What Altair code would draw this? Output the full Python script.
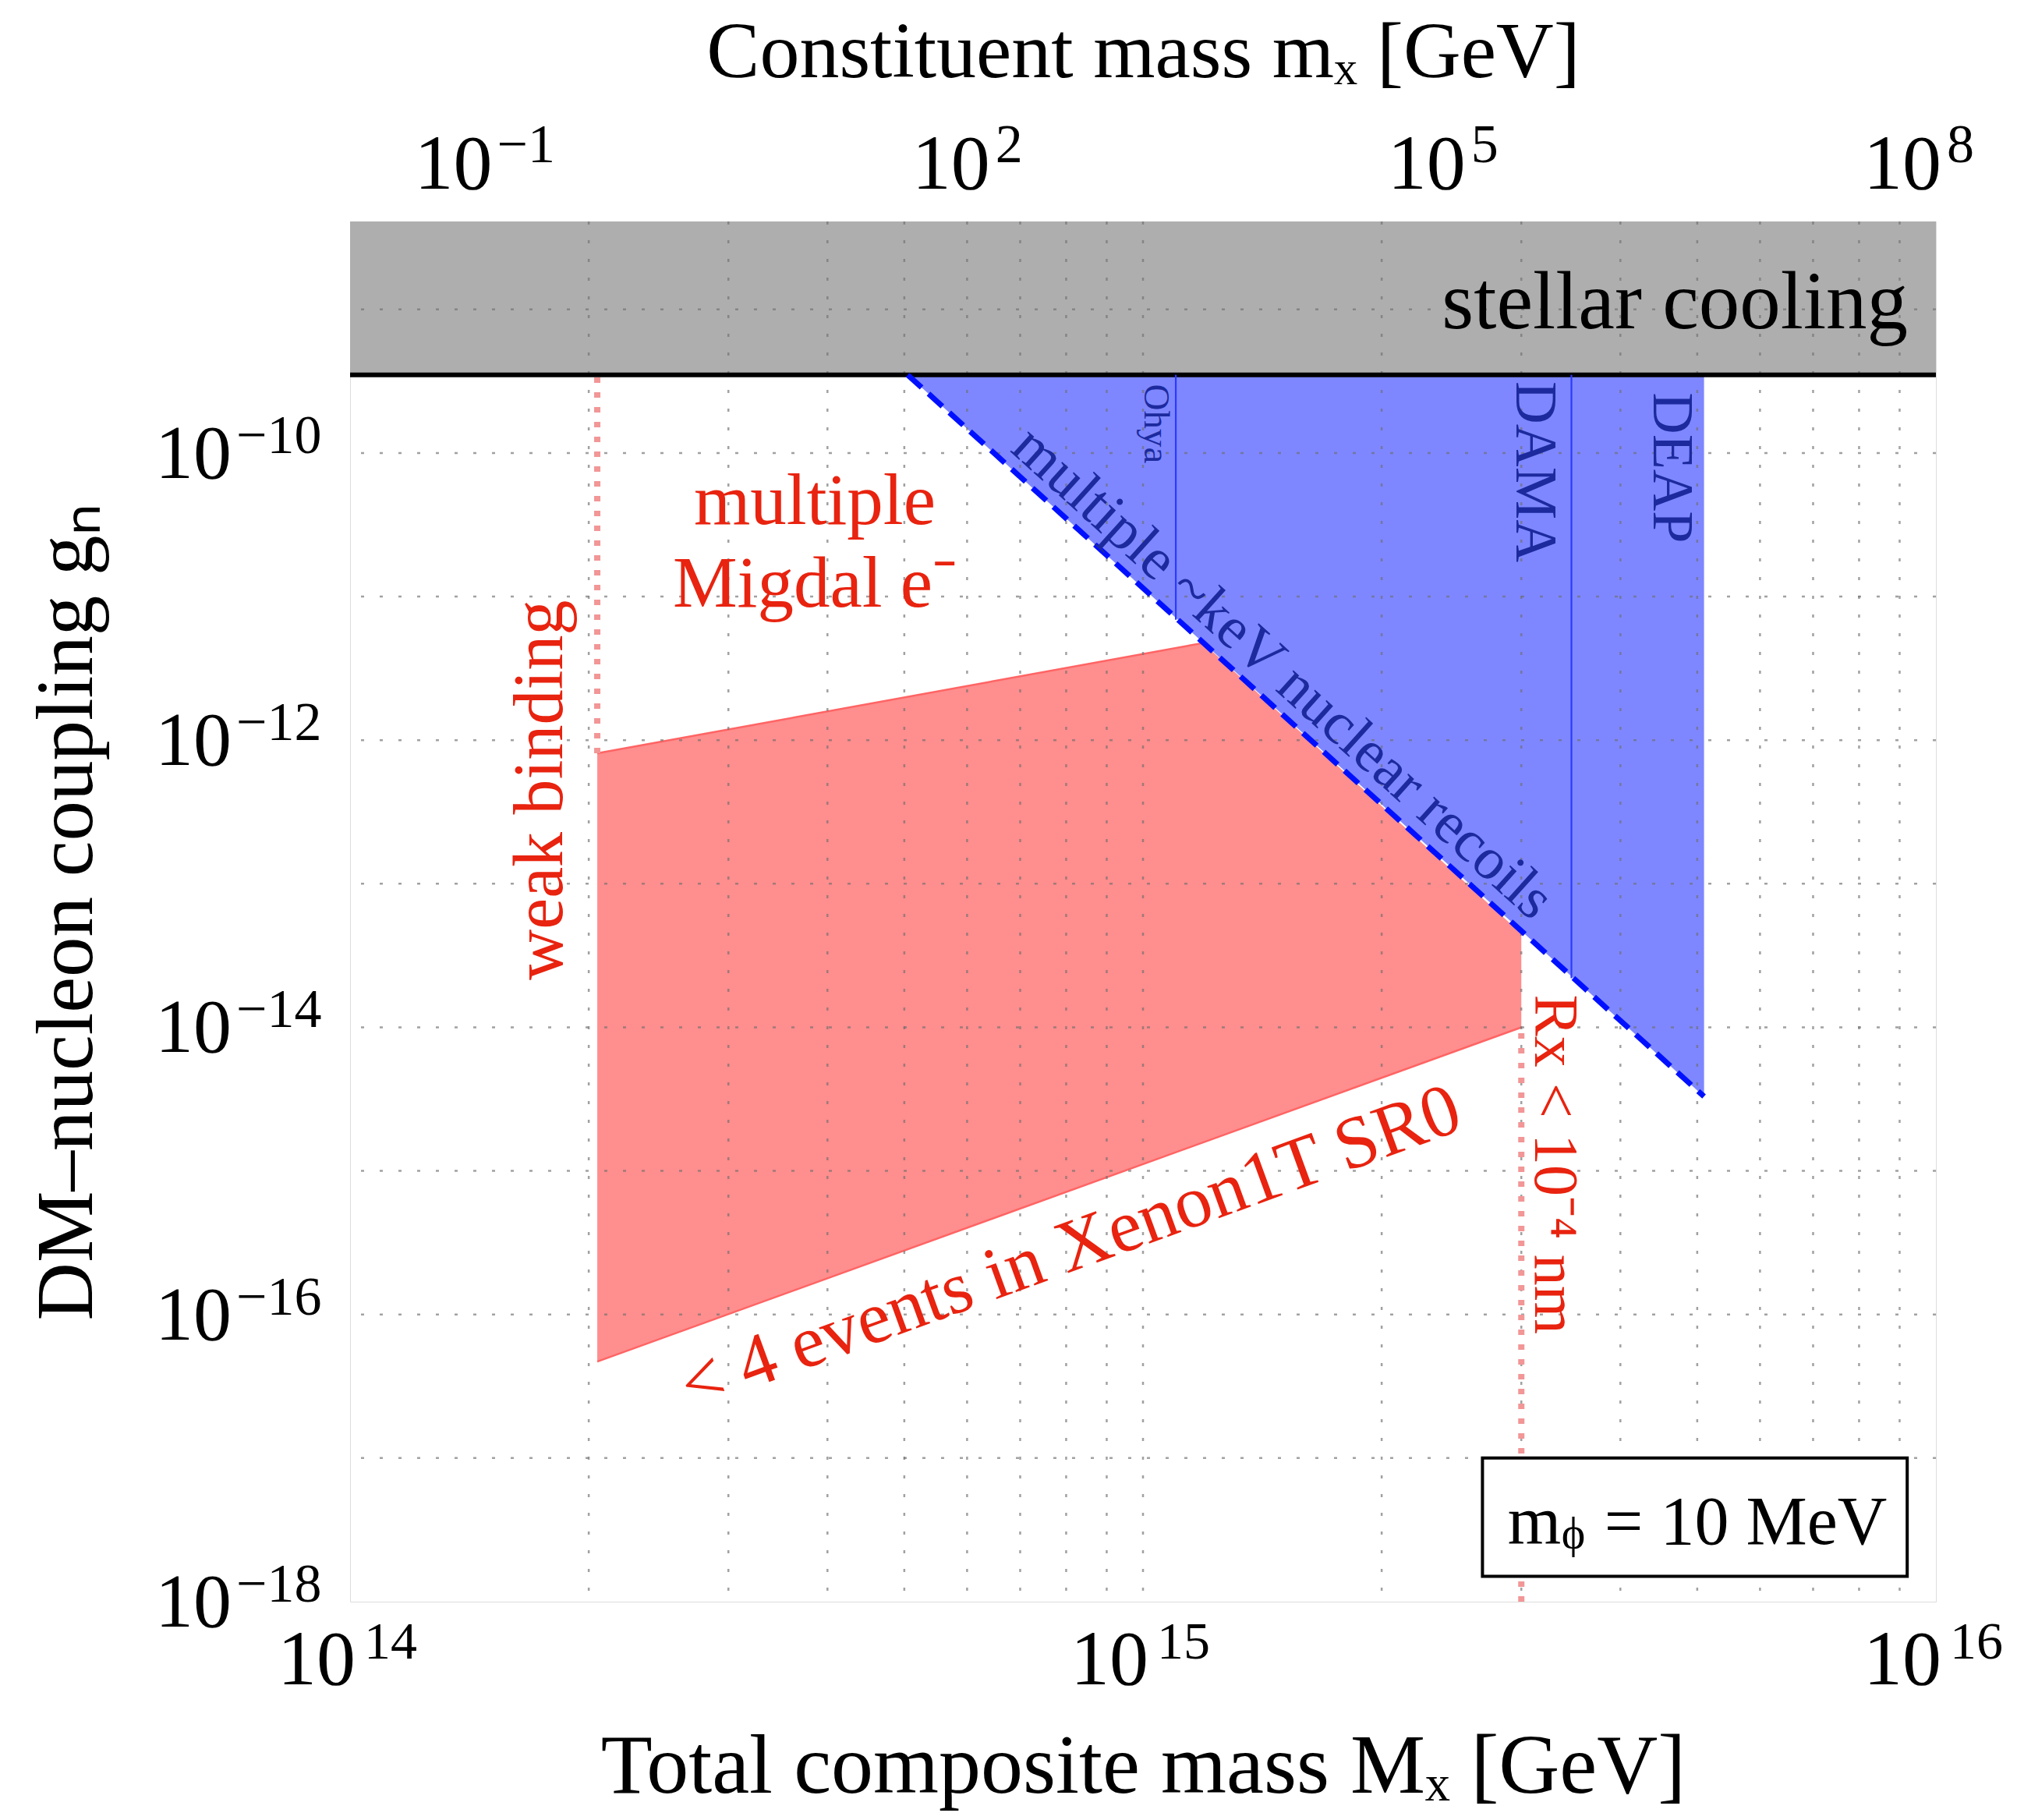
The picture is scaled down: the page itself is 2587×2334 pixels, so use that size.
import altair as alt
import pandas as pd

# ---------------- data ----------------
# axis extents
M_DOMAIN = [1e14, 1e16]                 # total composite mass M_X [GeV]
G_DOMAIN = [1e-18, 4.1e-9]              # DM-nucleon coupling g_n
M_CONST_DOMAIN = [0.01297, 1.297e8]     # constituent mass m_X [GeV] (top axis)

# grid lines
X_GRID = [2e14, 3e14, 4e14, 5e14, 6e14, 7e14, 8e14, 9e14, 1e15,
          2e15, 3e15, 4e15, 5e15, 6e15, 7e15, 8e15, 9e15]
Y_GRID = [1e-17, 1e-16, 1e-15, 1e-14, 1e-13, 1e-12, 1e-11, 1e-10, 1e-9]

# tick labels (base 10 with exponent)
BOTTOM_LABEL_M = [1e14, 1e15, 1e16]
BOTTOM_LABEL_EXP = ["14", "15", "16"]
LEFT_LABEL_G = [1e-10, 1e-12, 1e-14, 1e-16, 1e-18]
LEFT_LABEL_EXP = ["\u221210", "\u221212", "\u221214", "\u221216", "\u221218"]
TOP_LABEL_M = [0.1, 100.0, 1e5, 1e8]
TOP_LABEL_EXP = ["\u22121", "2", "5", "8"]

# stellar cooling band (excluded above this coupling)
STELLAR_G = 3.5e-10

# blue region: multiple ~keV nuclear recoils (DAMA / DEAP / Ohya)
BLUE_M = [5.05e14, 5.1e15]
BLUE_G_LOW = [3.5e-10, 3.3e-15]
BLUE_G_HIGH = [3.5e-10, 3.5e-10]

# vertical experiment lines inside the blue region (Ohya, DAMA)
EXP_M = [1.1e15, 3.47e15]
EXP_G_LOW = [6.9e-12, 2.2e-14]

# red region: < 4 events in Xenon1T SR0
RED_M = [2.05e14, 1.19e15, 3.0e15]
RED_G_LOW = [4.7e-17, 1.58e-15, 1e-14]
RED_G_HIGH = [8.1e-13, 4.75e-12, 4.5e-14]

# dotted red limits: weak binding, R_X < 1e-4 nm
WEAK_M = [2.05e14]
WEAK_G = [8.1e-13, 3.5e-10]
RX_M = [3.0e15]
RX_G = [1e-18, 1e-14]

# legend box (m_phi = 10 MeV)
BOX_M = [2.68e15, 9.2e15]
BOX_G = [1.5e-18, 1e-17]

# ---------------- styling ----------------
SERIF = "Liberation Serif"
RED_TXT = "#E8230F"
BLUE_TXT = "#1C2A9E"
W, H = 2034, 1770

x_scale = alt.Scale(type="log", domain=M_DOMAIN, nice=False)
y_scale = alt.Scale(type="log", domain=G_DOMAIN, nice=False)

x_axis = alt.Axis(
    labels=False, grid=False, ticks=False, domain=False,
    title="Total composite mass M\u2093 [GeV]", titleFont=SERIF,
    titleFontSize=108, titleFontWeight="normal", titleColor="black",
    titleY=244, titleBaseline="alphabetic",
)
y_axis = alt.Axis(
    labels=False, grid=False, ticks=False, domain=False,
    title="DM\u2013nucleon coupling g\u2099", titleFont=SERIF,
    titleFontSize=103, titleFontWeight="normal", titleColor="black",
    titleX=-332, titleBaseline="alphabetic",
)


def X(field="M"):
    return alt.X(f"{field}:Q", scale=x_scale, axis=x_axis)


def Y(field="g"):
    return alt.Y(f"{field}:Q", scale=y_scale, axis=y_axis)


# ---------------- layers ----------------
band_df = pd.DataFrame({"M": [M_DOMAIN[0]], "M2": [M_DOMAIN[1]],
                        "g": [STELLAR_G], "g2": [G_DOMAIN[1]]})
band = alt.Chart(band_df).mark_rect(color="#AEAEAE").encode(
    x=X(), x2="M2:Q", y=Y(), y2="g2:Q")

blue_df = pd.DataFrame({"M": BLUE_M, "g": BLUE_G_LOW, "g2": BLUE_G_HIGH})
blue = alt.Chart(blue_df).mark_area(color="#7E87FF", opacity=1).encode(
    x=X(), y=Y(), y2="g2:Q")

red_df = pd.DataFrame({"M": RED_M, "g": RED_G_LOW, "g2": RED_G_HIGH})
red = alt.Chart(red_df).mark_area(color="#FF8E8E", opacity=1).encode(
    x=X(), y=Y(), y2="g2:Q")

red_low_df = pd.DataFrame({"M": [RED_M[0], RED_M[2]], "g": [RED_G_LOW[0], RED_G_LOW[2]]})
red_low = alt.Chart(red_low_df).mark_line(color="#FF6464", strokeWidth=2.5).encode(
    x=X(), y=Y())
red_up_df = pd.DataFrame({"M": RED_M[:2], "g": RED_G_HIGH[:2]})
red_up = alt.Chart(red_up_df).mark_line(color="#FF6464", strokeWidth=2.5).encode(
    x=X(), y=Y())

vgrid = alt.Chart(pd.DataFrame({"M": X_GRID})).mark_rule(
    color="#6f6f6f", opacity=0.65, strokeWidth=2.5, strokeDash=[4, 20]).encode(x=X())
hgrid = alt.Chart(pd.DataFrame({"g": Y_GRID})).mark_rule(
    color="#6f6f6f", opacity=0.65, strokeWidth=2.5, strokeDash=[4, 20]).encode(y=Y())

stellar_line = alt.Chart(pd.DataFrame({"g": [STELLAR_G]})).mark_rule(
    color="black", strokeWidth=6).encode(y=Y())

exp_df = pd.DataFrame({"M": EXP_M, "g": EXP_G_LOW, "g2": [STELLAR_G] * len(EXP_M)})
exp_lines = alt.Chart(exp_df).mark_rule(color="#2B3BFF", strokeWidth=2.2).encode(
    x=X(), y=Y(), y2="g2:Q")

dash_df = pd.DataFrame({"M": BLUE_M, "g": BLUE_G_LOW})
dashed = alt.Chart(dash_df).mark_line(
    color="#0010FF", strokeWidth=7, strokeDash=[24, 12]).encode(x=X(), y=Y())

weak_df = pd.DataFrame({"M": WEAK_M, "g": [WEAK_G[0]], "g2": [WEAK_G[1]]})
weak = alt.Chart(weak_df).mark_rule(
    color="#F29696", strokeWidth=8, strokeDash=[7, 12]).encode(x=X(), y=Y(), y2="g2:Q")
rx_df = pd.DataFrame({"M": RX_M, "g": [RX_G[0]], "g2": [RX_G[1]]})
rx = alt.Chart(rx_df).mark_rule(
    color="#F29696", strokeWidth=8, strokeDash=[7, 12]).encode(x=X(), y=Y(), y2="g2:Q")

box_df = pd.DataFrame({"M": [BOX_M[0]], "M2": [BOX_M[1]], "g": [BOX_G[0]], "g2": [BOX_G[1]]})
box = alt.Chart(box_df).mark_rect(fill="white", stroke="black", strokeWidth=4).encode(
    x=X(), x2="M2:Q", y=Y(), y2="g2:Q")


def annot(text, M, g, size, color, angle=0, align="center", baseline="middle",
          dx=0, dy=0, font=SERIF):
    df = pd.DataFrame({"M": [M], "g": [g], "t": [text]})
    return alt.Chart(df).mark_text(
        font=font, fontSize=size, color=color, angle=angle, align=align,
        baseline=baseline, dx=dx, dy=dy).encode(x=X(), y=Y(), text="t:N")


texts = [
    annot("stellar cooling", 9.22e15, 7.4e-10, 105, "black", align="right",
          baseline="alphabetic"),
    annot("multiple", 3.855e14, 3.2e-11, 93, RED_TXT, baseline="alphabetic"),
    annot("Migdal e\u207b", 3.855e14, 8.5e-12, 93, RED_TXT, baseline="alphabetic"),
    annot("weak binding", 1.74e14, 4.5e-13, 90, RED_TXT, angle=270),
    annot("< 4 events in Xenon1T SR0", 8.1e14, 2.9e-16, 95, RED_TXT, angle=340),
    annot("Rx < 10\u207b\u2074 nm", 3.3e15, 1.11e-15, 80, RED_TXT, angle=90),
    annot("multiple ~keV nuclear recoils", 1.5e15, 2.94e-12, 76, BLUE_TXT, angle=42),
    annot("Ohya", 1.037e15, 1.6e-10, 47, BLUE_TXT, angle=90),
    annot("DAMA", 3.115e15, 7.4e-11, 76, BLUE_TXT, angle=90),
    annot("DEAP", 4.63e15, 7.9e-11, 74, BLUE_TXT, angle=90),
    annot("m", 2.884e15, 2.52e-18, 88, "black", align="left", baseline="alphabetic"),
    annot("\u03d5", 2.884e15, 2.52e-18, 58, "black", align="left",
          baseline="alphabetic", dx=69, dy=5),
    annot("= 10 MeV", 2.884e15, 2.52e-18, 88, "black", align="left",
          baseline="alphabetic", dx=124),
]

# bottom tick labels
bl_df = pd.DataFrame({"M": BOTTOM_LABEL_M, "e": BOTTOM_LABEL_EXP})
bottom_base = alt.Chart(bl_df).mark_text(
    text="10", font=SERIF, fontSize=100, color="black", align="right",
    baseline="alphabetic", dx=7).encode(x=X(), y=alt.value(H + 106))
bottom_sup = alt.Chart(bl_df).mark_text(
    font=SERIF, fontSize=68, color="black", align="left",
    baseline="alphabetic", dx=18).encode(x=X(), y=alt.value(H + 73), text="e:N")

# left tick labels
ll_df = pd.DataFrame({"g": LEFT_LABEL_G, "e": LEFT_LABEL_EXP})
left_base = alt.Chart(ll_df).mark_text(
    text="10", font=SERIF, fontSize=98, color="black", align="right",
    baseline="alphabetic", dy=32).encode(x=alt.value(-152), y=Y())
left_sup = alt.Chart(ll_df).mark_text(
    font=SERIF, fontSize=70, color="black", align="left",
    baseline="alphabetic").encode(x=alt.value(-146), y=Y(), text="e:N")

main = alt.layer(band, blue, red, red_low, red_up, vgrid, hgrid, stellar_line,
                 exp_lines, dashed, weak, rx, box, *texts,
                 bottom_base, bottom_sup, left_base, left_sup)

# top axis: constituent mass
top_scale = alt.Scale(type="log", domain=M_CONST_DOMAIN, nice=False)
top_axis = alt.Axis(
    orient="top", labels=False, grid=False, ticks=False, domain=False,
    title="Constituent mass m\u2093 [GeV]", titleFont=SERIF,
    titleFontSize=102, titleFontWeight="normal", titleColor="black",
    titleY=-186, titleBaseline="alphabetic")


def XT():
    return alt.X("m:Q", scale=top_scale, axis=top_axis)


top_anchor = alt.Chart(pd.DataFrame({"m": M_CONST_DOMAIN})).mark_point(opacity=0).encode(x=XT())

top_layers = [top_anchor]
for m_val, e in zip(TOP_LABEL_M, TOP_LABEL_EXP):
    long_exp = len(e) > 1
    df = pd.DataFrame({"m": [m_val], "e": [e]})
    top_layers.append(alt.Chart(df).mark_text(
        text="10", font=SERIF, fontSize=100, color="black", align="right",
        baseline="alphabetic", dx=2 if long_exp else 30).encode(
            x=XT(), y=alt.value(-42)))
    top_layers.append(alt.Chart(df).mark_text(
        font=SERIF, fontSize=70, color="black", align="left",
        baseline="alphabetic", dx=8 if long_exp else 37).encode(
            x=XT(), y=alt.value(-76), text="e:N"))

top = alt.layer(*top_layers)

chart = alt.layer(main, top).resolve_scale(x="independent").properties(
    width=W, height=H,
    padding={"left": 441, "top": 276, "right": 90, "bottom": 272},
    autosize=alt.AutoSizeParams(type="none"),
).configure_view(stroke="#8f8f8f", strokeWidth=3).configure(background="white")

chart.save("out.html", embed_options={"renderer": "svg", "actions": False})
